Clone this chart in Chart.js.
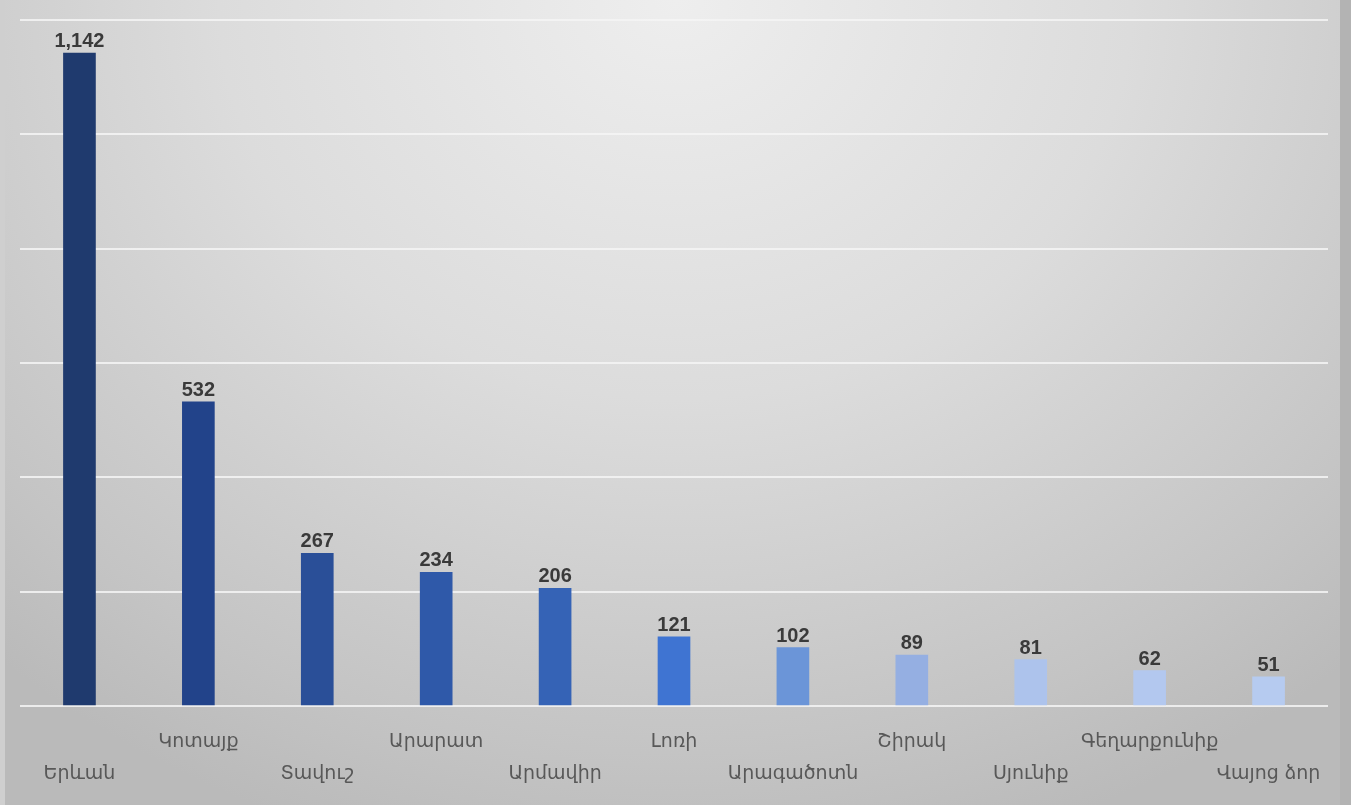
<!DOCTYPE html>
<html>
<head>
<meta charset="utf-8">
<script src="https://cdn.jsdelivr.net/npm/chart.js@4/dist/chart.umd.min.js"></script>
<style>
html,body{margin:0;padding:0;width:1351px;height:805px;overflow:hidden;}
body{background:radial-gradient(ellipse 75% 110% at 50% 0%, #eeeeee 0%, #dcdcdc 45%, #c4c4c4 85%, #bababa 100%);}
#wrap{position:absolute;left:0;top:0;width:1351px;height:810px;}
#edgeL{position:absolute;left:0;top:0;width:5px;height:805px;background:#cfcfcf;}
#edgeR{position:absolute;left:1340px;top:0;width:11px;height:805px;background:#b3b3b3;}
</style>
</head>
<body>
<div id="edgeL"></div><div id="edgeR"></div>
<div id="wrap"><canvas id="c" width="1351" height="810"></canvas></div>
<script>
const categories = ['Երևան','Կոտայք','Տավուշ','Արարատ','Արմավիր','Լոռի','Արագածոտն','Շիրակ','Սյունիք','Գեղարքունիք','Վայոց ձոր'];
const values = [1142, 532, 267, 234, 206, 121, 102, 89, 81, 62, 51];
const barColors = ['#1f3a6e','#22438a','#2a4f98','#2f59a9','#3563b6','#3f74d2','#6b95d8','#95afe2','#adc3ec','#b3c8ef','#b6cbf0'];
const yTicks = [0, 200, 400, 600, 800, 1000, 1200];

const labels = categories.map((c, i) => i % 2 === 0 ? ['', c] : [c]);

const valueLabels = {
  id: 'valueLabels',
  afterDatasetsDraw(chart) {
    const ctx = chart.ctx;
    const meta = chart.getDatasetMeta(0);
    ctx.save();
    ctx.font = 'bold 20px "Liberation Sans", "DejaVu Sans", sans-serif';
    ctx.fillStyle = '#3a3a3a';
    ctx.textAlign = 'center';
    ctx.textBaseline = 'alphabetic';
    meta.data.forEach((bar, i) => {
      ctx.fillText(values[i].toLocaleString('en-US'), bar.x, bar.y - 6);
    });
    ctx.restore();
  }
};

new Chart(document.getElementById('c'), {
  type: 'bar',
  data: {
    labels: labels,
    datasets: [{
      data: values,
      backgroundColor: barColors,
      borderWidth: 0,
      barThickness: 32
    }]
  },
  options: {
    responsive: false,
    animation: false,
    layout: { padding: { left: 20, right: 23, top: 20, bottom: 0 } },
    plugins: { legend: { display: false }, tooltip: { enabled: false } },
    scales: {
      x: {
        grid: { display: false, drawTicks: false },
        border: { display: false },
        ticks: {
          color: '#585858',
          font: { family: '"DejaVu Sans", sans-serif', size: 19, lineHeight: '32px' },
          padding: 20,
          maxRotation: 0,
          autoSkip: false
        }
      },
      y: {
        min: 0,
        max: 1200,
        afterBuildTicks(axis) { axis.ticks = yTicks.map(v => ({ value: v })); },
        grid: { color: 'rgba(245,245,245,0.85)', lineWidth: 2, drawTicks: false },
        border: { display: false },
        ticks: { display: false }
      }
    }
  },
  plugins: [valueLabels]
});
</script>
</body>
</html>
